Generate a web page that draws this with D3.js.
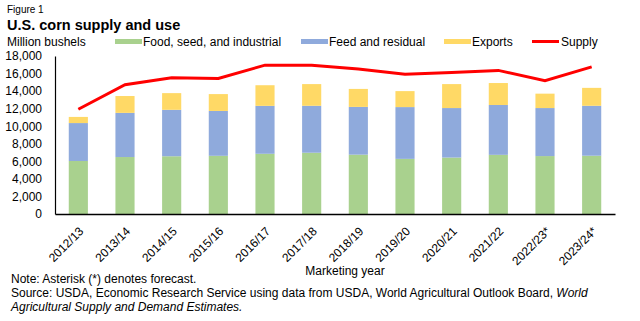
<!DOCTYPE html>
<html>
<head>
<meta charset="utf-8">
<script src="https://cdn.jsdelivr.net/npm/d3@7"></script>
<style>
  body { margin: 0; background: #fff; }
  text { font-family: "Liberation Sans", Arial, sans-serif; fill: #000; }
</style>
</head>
<body>
<div id="chart"></div>
<script>
// marketing years
const years = ["2012/13", "2013/14", "2014/15", "2015/16", "2016/17", "2017/18",
               "2018/19", "2019/20", "2020/21", "2021/22", "2022/23*", "2023/24*"];
// million bushels
const foodSeedIndustrial = [6040, 6490, 6580, 6630, 6860, 6980, 6760, 6280, 6430, 6740, 6600, 6640];
const feedResidual       = [4320, 5030, 5290, 5110, 5460, 5350, 5440, 5900, 5640, 5680, 5470, 5690];
const exports            = [ 700, 1920, 1900, 1920, 2350, 2470, 2050, 1820, 2730, 2500, 1640, 2040];
const supply             = [11932, 14730, 15520, 15430, 16960, 16950, 16530, 15910, 16110, 16360, 15180, 16760];
const yTicks = [0, 2000, 4000, 6000, 8000, 10000, 12000, 14000, 16000, 18000];

const seriesNames = ["Food, seed, and industrial", "Feed and residual", "Exports"];
const colors = ["#A9D18E", "#8FAADC", "#FFD966"];

const W = 640, H = 321;
const svg = d3.select("#chart").append("svg")
    .attr("width", W).attr("height", H);

const x = d3.scaleBand()
    .domain(years)
    .range([55, 615])
    .paddingInner(0.59)
    .paddingOuter(0.295);

const y = d3.scaleLinear()
    .domain([0, 18000])
    .range([214, 56]);

// stack the three use components
const rows = years.map((yr, i) => ({
    year: yr, a: foodSeedIndustrial[i], b: feedResidual[i], c: exports[i]
}));
const stack = d3.stack().keys(["a", "b", "c"])(rows);

svg.append("g").selectAll("g")
    .data(stack)
    .join("g")
    .attr("fill", (d, i) => colors[i])
    .selectAll("rect")
    .data(d => d)
    .join("rect")
    .attr("x", d => x(d.data.year))
    .attr("width", x.bandwidth())
    .attr("y", d => y(d[1]))
    .attr("height", d => y(d[0]) - y(d[1]));

// supply line
const line = d3.line()
    .x((d, i) => x(years[i]) + x.bandwidth() / 2)
    .y(d => y(d));
svg.append("path")
    .datum(supply)
    .attr("fill", "none")
    .attr("stroke", "#FF0000")
    .attr("stroke-width", 3)
    .attr("d", line);

// y axis
const yAxis = svg.append("g")
    .attr("transform", "translate(55,0)")
    .call(d3.axisLeft(y).tickValues(yTicks).tickSize(0).tickPadding(13)
        .tickFormat(d3.format(",")));
yAxis.select(".domain").attr("stroke", "#000").attr("stroke-width", 1.2);
yAxis.selectAll("text").style("font-size", "12px")
    .style("font-family", "Liberation Sans, Arial, sans-serif");

// x axis
const xAxis = svg.append("g")
    .attr("transform", "translate(0,214)")
    .call(d3.axisBottom(x).tickSize(0).tickPadding(0));
xAxis.select(".domain").attr("stroke", "#000").attr("stroke-width", 1.5);
xAxis.selectAll("text")
    .style("font-size", "12px")
    .style("font-family", "Liberation Sans, Arial, sans-serif")
    .style("text-anchor", "end")
    .attr("dy", 0)
    .attr("y", 0)
    .attr("transform", "translate(6,18) rotate(-45)");

// titles
svg.append("text").attr("x", 7).attr("y", 13)
    .style("font-size", "10px").text("Figure 1");
svg.append("text").attr("x", 7).attr("y", 30)
    .style("font-size", "14.5px").style("font-weight", "bold")
    .text("U.S. corn supply and use");
svg.append("text").attr("x", 7).attr("y", 46)
    .style("font-size", "12px").text("Million bushels");

// legend
const legendPos = [115, 301, 444];
seriesNames.forEach((name, i) => {
    svg.append("rect").attr("x", legendPos[i]).attr("y", 39)
        .attr("width", 27).attr("height", 5).attr("fill", colors[i]);
    svg.append("text").attr("x", legendPos[i] + 28).attr("y", 46)
        .style("font-size", "12px").text(name);
});
svg.append("line").attr("x1", 532).attr("x2", 559).attr("y1", 41.5).attr("y2", 41.5)
    .attr("stroke", "#FF0000").attr("stroke-width", 3);
svg.append("text").attr("x", 561).attr("y", 46)
    .style("font-size", "12px").text("Supply");

// x axis title
svg.append("text").attr("x", 345).attr("y", 275)
    .attr("text-anchor", "middle").style("font-size", "12px")
    .text("Marketing year");

// notes
svg.append("text").attr("x", 11).attr("y", 283)
    .style("font-size", "12px").text("Note: Asterisk (*) denotes forecast.");
const src = svg.append("text").attr("x", 11).attr("y", 297).style("font-size", "12px");
src.append("tspan").text("Source: USDA, Economic Research Service using data from USDA, World Agricultural Outlook Board, ");
src.append("tspan").style("font-style", "italic").text("World");
svg.append("text").attr("x", 11).attr("y", 311)
    .style("font-size", "12px").style("font-style", "italic")
    .text("Agricultural Supply and Demand Estimates.");
</script>
</body>
</html>
